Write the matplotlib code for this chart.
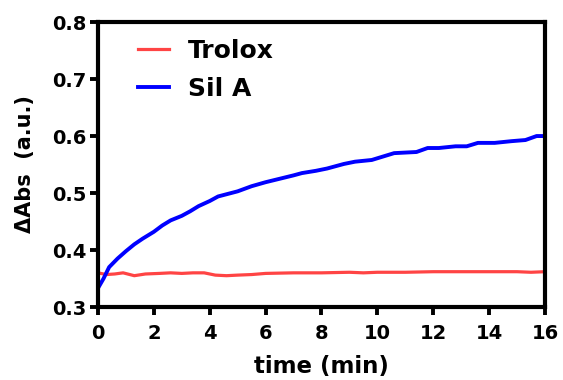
import numpy as np
import matplotlib
matplotlib.use("Agg")
import matplotlib.pyplot as plt

plt.rcParams['font.family'] = ['DejaVu Sans']
plt.rcParams['font.weight'] = 'bold'

# Sil A absorbance change over time
t_sil = [0, 0.2, 0.4, 0.7, 1.0, 1.3, 1.6, 2.0, 2.3, 2.6, 3.0, 3.3, 3.6, 4.0, 4.3,
         5.0, 5.5, 6.0, 6.5, 7.0, 7.3, 7.8, 8.2, 8.8, 9.2, 9.8, 10.2, 10.6, 11.4,
         11.8, 12.2, 12.8, 13.2, 13.6, 14.2, 14.8, 15.3, 15.7, 16.0]
sil_a = [0.333, 0.350, 0.370, 0.385, 0.398, 0.410, 0.420, 0.432, 0.443, 0.452,
         0.460, 0.468, 0.477, 0.486, 0.494, 0.503, 0.512, 0.519, 0.525, 0.531,
         0.535, 0.539, 0.543, 0.551, 0.555, 0.558, 0.564, 0.570, 0.572, 0.579,
         0.579, 0.582, 0.582, 0.588, 0.588, 0.591, 0.593, 0.600, 0.600]

# Trolox absorbance change over time
t_tro = [0, 0.3, 0.6, 0.9, 1.3, 1.7, 2.2, 2.6, 3.0, 3.4, 3.8, 4.2, 4.6, 5.0,
         5.5, 6.0, 7.0, 8.0, 9.0, 9.5, 10.0, 11.0, 12.0, 13.0, 14.0, 15.0,
         15.5, 16.0]
trolox = [0.360, 0.357, 0.358, 0.360, 0.355, 0.358, 0.359, 0.360, 0.359, 0.360,
          0.360, 0.356, 0.355, 0.356, 0.357, 0.359, 0.360, 0.360, 0.361, 0.360,
          0.361, 0.361, 0.362, 0.362, 0.362, 0.362, 0.361, 0.362]

fig = plt.figure(figsize=(5.63, 3.8), dpi=100)
ax = fig.add_axes([0.174, 0.192, 0.794, 0.750])

ax.plot(t_tro, trolox, color='#ff4444', lw=2.3, label='Trolox')
ax.plot(t_sil, sil_a, color='#0000ff', lw=2.8, label='Sil A')

ax.set_xlim(0, 16)
ax.set_ylim(0.3, 0.8)
ax.set_xticks(np.arange(0, 17, 2))
ax.set_yticks(np.arange(0.3, 0.81, 0.1))
ax.set_yticklabels(['0.3', '0.4', '0.5', '0.6', '0.7', '0.8'])

for s in ax.spines.values():
    s.set_linewidth(3.0)
ax.tick_params(width=2.8, length=6, labelsize=14)
ax.tick_params(axis='x', pad=6)
ax.tick_params(axis='y', pad=2.5)
for lbl in ax.get_xticklabels() + ax.get_yticklabels():
    lbl.set_fontweight('bold')

ax.set_xlabel('time (min)', fontsize=16.5, fontweight='bold', labelpad=9)
ax.set_ylabel('\u0394Abs  (a.u.)', fontsize=15, fontweight='bold', labelpad=12)

ax.legend(loc='upper left', frameon=False, handlelength=1.25,
          handletextpad=0.75, labelspacing=0.55, borderpad=0, borderaxespad=0,
          bbox_to_anchor=(0.089, 0.94),
          prop={'weight': 'bold', 'size': 18})

fig.savefig('out.png', dpi=100)
